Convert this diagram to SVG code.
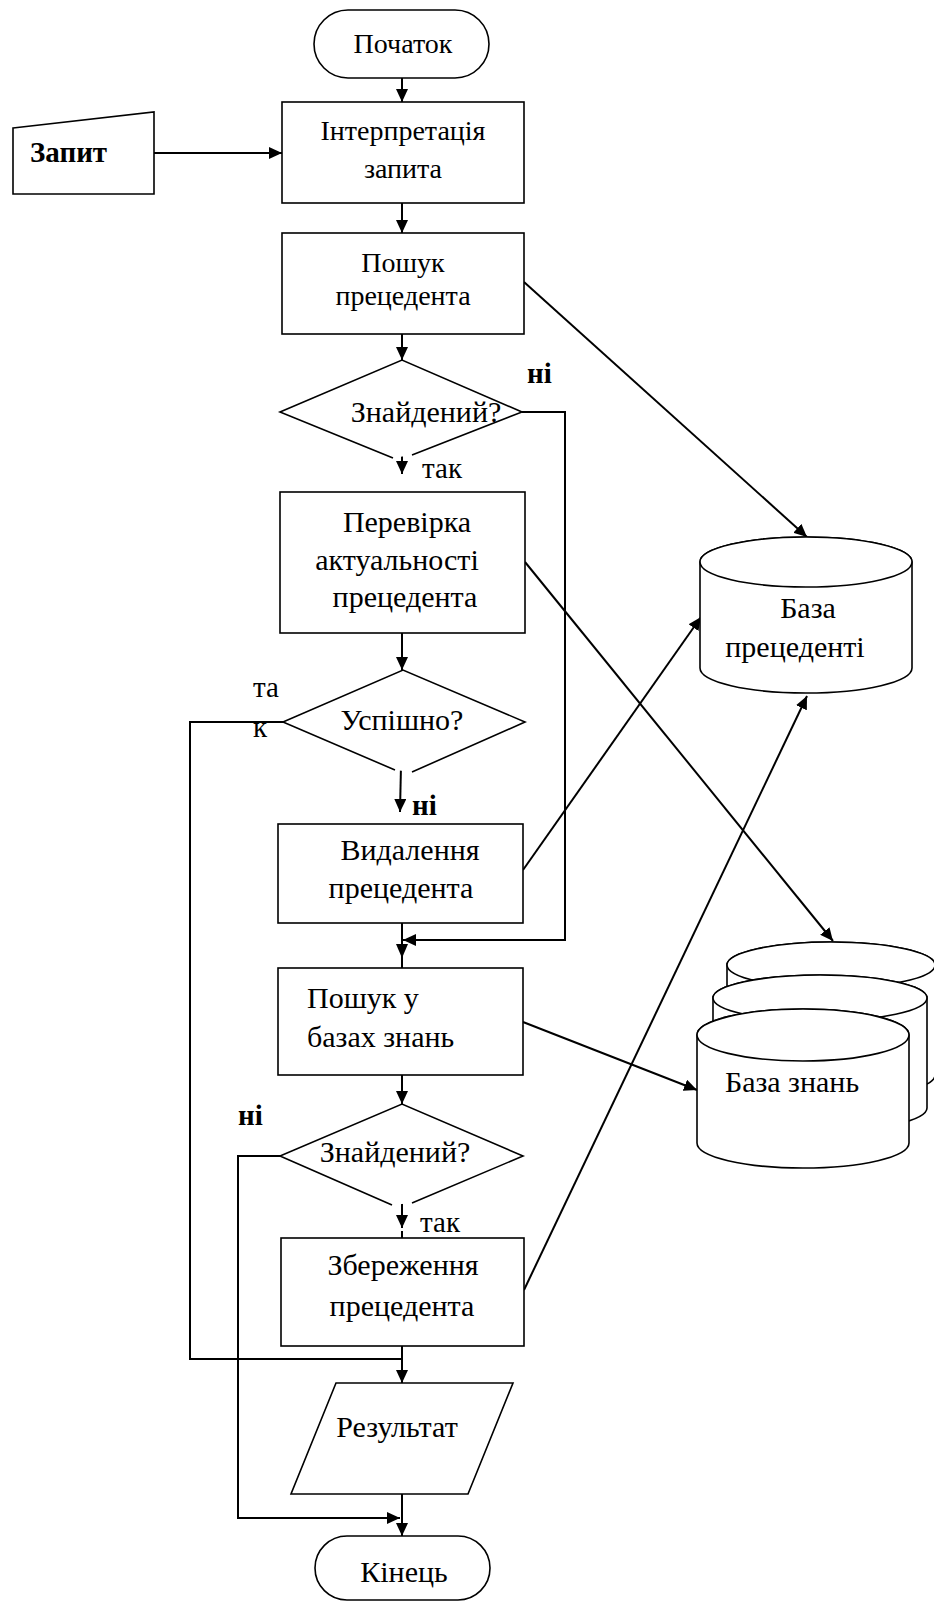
<svg xmlns="http://www.w3.org/2000/svg" width="934" height="1602" viewBox="0 0 934 1602">
  <style>
    .shape { fill: #fff; stroke: #000; stroke-width: 1.6; }
    .wire { fill: none; stroke: #000; stroke-width: 2; }
    .t { font-family: "Liberation Serif", "Times New Roman", serif; font-size: 30px; fill: #000; text-anchor: middle; }
    .sm { font-size: 28px; }
    .left { text-anchor: start; }
    .lbl { font-family: "Liberation Serif", "Times New Roman", serif; font-size: 29px; fill: #000; }
    .b { font-weight: bold; }
  </style>
  <defs>
    <marker id="arrow" viewBox="0 0 13 12" refX="13" refY="6" markerWidth="13" markerHeight="12" markerUnits="userSpaceOnUse" orient="auto">
      <path d="M0,0 L13,6 L0,12 Z" fill="#000"/>
    </marker>
  </defs>

  <rect width="934" height="1602" fill="#fff"/>

  <!-- connectors -->
  <g id="connectors">
    <line class="wire" x1="402" y1="78" x2="402" y2="102" marker-end="url(#arrow)"/>
    <line class="wire" x1="154" y1="153" x2="282" y2="153" marker-end="url(#arrow)"/>
    <line class="wire" x1="402" y1="203" x2="402" y2="233" marker-end="url(#arrow)"/>
    <line class="wire" x1="402" y1="334" x2="402" y2="360" marker-end="url(#arrow)"/>
    <line class="wire" x1="524" y1="282" x2="807" y2="537" marker-end="url(#arrow)"/>
    <polyline class="wire" points="522,412 565,412 565,940 403,940" marker-end="url(#arrow)"/>
    <line class="wire" x1="402" y1="449" x2="402" y2="474" marker-end="url(#arrow)"/>
    <line class="wire" x1="402" y1="633" x2="402" y2="670" marker-end="url(#arrow)"/>
    <line class="wire" x1="525" y1="562" x2="833" y2="941" marker-end="url(#arrow)"/>
    <polyline class="wire" points="283,722 190,722 190,1359 402,1359"/>
    <line class="wire" x1="401" y1="765" x2="400" y2="812" marker-end="url(#arrow)"/>
    <line class="wire" x1="523" y1="870" x2="701" y2="617" marker-end="url(#arrow)"/>
    <line class="wire" x1="402" y1="923" x2="402" y2="968"/>
    <path d="M396,944 L408,944 L402,958 Z" fill="#000"/>
    <line class="wire" x1="402" y1="1075" x2="402" y2="1104" marker-end="url(#arrow)"/>
    <line class="wire" x1="523" y1="1022" x2="697" y2="1090" marker-end="url(#arrow)"/>
    <polyline class="wire" points="280,1156 238,1156 238,1518 400,1518" marker-end="url(#arrow)"/>
    <line class="wire" x1="402" y1="1198" x2="402" y2="1228" marker-end="url(#arrow)"/>
    <line class="wire" x1="402" y1="1231" x2="402" y2="1238"/>
    <line class="wire" x1="524" y1="1290" x2="807" y2="696" marker-end="url(#arrow)"/>
    <line class="wire" x1="402" y1="1346" x2="402" y2="1383" marker-end="url(#arrow)"/>
    <line class="wire" x1="402" y1="1494" x2="402" y2="1536" marker-end="url(#arrow)"/>
  </g>

  <!-- start -->
  <g id="start">
    <rect class="shape" x="314" y="10" width="175" height="68" rx="34"/>
    <text class="t sm" x="403" y="53">Початок</text>
  </g>

  <!-- query input -->
  <g id="query">
    <path class="shape" d="M13,128 L154,112 L154,194 L13,194 Z"/>
    <text class="lbl b" x="30" y="162">Запит</text>
  </g>

  <g id="interpret">
    <rect class="shape" x="282" y="102" width="242" height="101"/>
    <text class="t sm" x="403" y="140">Інтерпретація</text>
    <text class="t sm" x="403" y="178">запита</text>
  </g>

  <g id="search-case">
    <rect class="shape" x="282" y="233" width="242" height="101"/>
    <text class="t sm" x="403" y="272">Пошук</text>
    <text class="t sm" x="403" y="305">прецедента</text>
  </g>

  <g id="found-1">
    <path class="shape" d="M393,458 L280,412 L402,360 L522,412 L412,455"/>
    <text class="t" x="426" y="422">Знайдений?</text>
    <text class="lbl b" x="527" y="383">ні</text>
    <text class="lbl" x="422" y="478">так</text>
  </g>

  <g id="check">
    <rect class="shape" x="280" y="492" width="245" height="141"/>
    <text class="t" x="407" y="532">Перевірка</text>
    <text class="t" x="397" y="570">актуальності</text>
    <text class="t" x="405" y="607">прецедента</text>
  </g>

  <g id="success">
    <path class="shape" d="M395,770 L283,722 L403,670 L525,722 L412,772"/>
    <text class="t" x="402" y="730">Успішно?</text>
    <text class="lbl" x="253" y="697">та</text>
    <text class="lbl" x="253" y="737">к</text>
    <text class="lbl b" x="412" y="815">ні</text>
  </g>

  <g id="delete">
    <rect class="shape" x="278" y="824" width="245" height="99"/>
    <text class="t" x="410" y="860">Видалення</text>
    <text class="t" x="401" y="898">прецедента</text>
  </g>

  <g id="search-kb">
    <rect class="shape" x="278" y="968" width="245" height="107"/>
    <text class="t left" x="307" y="1008">Пошук у</text>
    <text class="t left" x="307" y="1047">базах знань</text>
  </g>

  <g id="found-2">
    <path class="shape" d="M392,1205 L280,1156 L402,1104 L523,1156 L412,1203"/>
    <text class="t" x="395" y="1162">Знайдений?</text>
    <text class="lbl b" x="238" y="1125">ні</text>
    <text class="lbl" x="420" y="1232">так</text>
  </g>

  <g id="save">
    <rect class="shape" x="281" y="1238" width="243" height="108"/>
    <text class="t" x="403" y="1275">Збереження</text>
    <text class="t" x="402" y="1316">прецедента</text>
  </g>

  <g id="result">
    <path class="shape" d="M336,1383 L513,1383 L468,1494 L291,1494 Z"/>
    <text class="t" x="397" y="1437">Результат</text>
  </g>

  <g id="end">
    <rect class="shape" x="315" y="1536" width="175" height="64" rx="32"/>
    <text class="t" x="404" y="1582">Кінець</text>
  </g>

  <!-- case base -->
  <g id="case-base">
    <path class="shape" d="M700,562 L700,668 A106,25 0 0 0 912,668 L912,562 A106,25 0 0 0 700,562 Z"/>
    <ellipse class="shape" cx="806" cy="562" rx="106" ry="25"/>
    <text class="t" x="808" y="618">База</text>
    <text class="t" x="795" y="657">прецеденті</text>
  </g>

  <!-- knowledge bases (stacked) -->
  <g id="knowledge-base">
    <path class="shape" d="M727,965 L727,1075 A104,23 0 0 0 935,1075 L935,965 A104,23 0 0 0 727,965 Z"/>
    <ellipse class="shape" cx="831" cy="965" rx="104" ry="23"/>
    <path class="shape" d="M713,998 L713,1108 A107,23 0 0 0 927,1108 L927,998 A107,23 0 0 0 713,998 Z"/>
    <ellipse class="shape" cx="820" cy="998" rx="107" ry="23"/>
    <path class="shape" d="M697,1035 L697,1143 A106,25 0 0 0 909,1143 L909,1035 A106,26 0 0 0 697,1035 Z"/>
    <ellipse class="shape" cx="803" cy="1035" rx="106" ry="26"/>
    <text class="t" x="792" y="1092">База знань</text>
  </g>
</svg>
